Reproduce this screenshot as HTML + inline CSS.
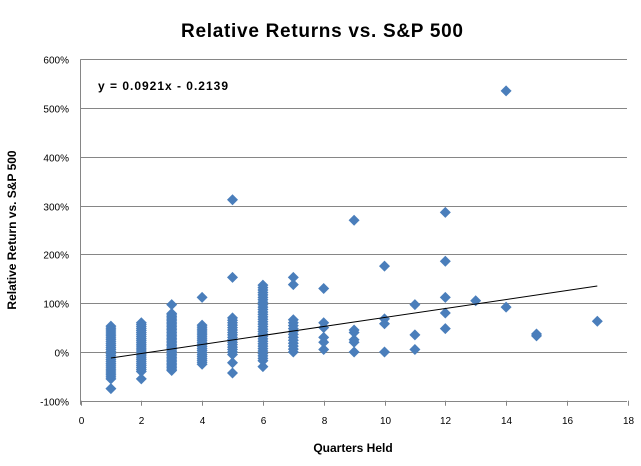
<!DOCTYPE html>
<html><head><meta charset="utf-8"><style>
body{margin:0;background:#fff;}
svg{display:block;font-family:"Liberation Sans",sans-serif;}
</style></head><body>
<svg id="s" width="641" height="466" viewBox="0 0 641 466">
<rect width="641" height="466" fill="#fff"/>
<text x="322" y="37" text-anchor="middle" font-size="19" font-weight="bold" textLength="282">Relative Returns vs. S&amp;P 500</text>
<g id="grid" stroke="#868686" stroke-width="1"></g>
<g id="lbl" font-size="10" fill="#000"></g>
<text x="98" y="90" font-size="12" font-weight="bold" textLength="130">y = 0.0921x - 0.2139</text>
<text x="353" y="452" text-anchor="middle" font-size="12" font-weight="bold">Quarters Held</text>
<text transform="translate(16,230) rotate(-90)" text-anchor="middle" font-size="12" font-weight="bold">Relative Return vs. S&amp;P 500</text>
<g id="pts" fill="#4A7EBB"></g>
<line x1="110.9" y1="358" x2="597.3" y2="286" stroke="#000" stroke-width="1"/>
</svg>
<script>
var NS="http://www.w3.org/2000/svg";
function X(v){return 80.5+v*30.4;}function Y(p){return 352-p*0.488;}
var g=document.getElementById('grid'),l=document.getElementById('lbl');
for(var p=-100;p<=600;p+=100){var y=Math.round(Y(p))+0.5;var e=document.createElementNS(NS,'line');
e.setAttribute('x1',80.5);e.setAttribute('x2',627);e.setAttribute('y1',y);e.setAttribute('y2',y);g.appendChild(e);
var t=document.createElementNS(NS,'text');t.setAttribute('x',69);t.setAttribute('y',y+4);t.setAttribute('text-anchor','end');t.textContent=p+'%';l.appendChild(t);}
var e=document.createElementNS(NS,'line');e.setAttribute('x1',80.5);e.setAttribute('x2',80.5);e.setAttribute('y1',Y(600));e.setAttribute('y2',Y(-100)+4);g.appendChild(e);
for(var x=0;x<=18;x+=2){var xx=Math.round(X(x))+0.5;var e=document.createElementNS(NS,'line');e.setAttribute('x1',xx);e.setAttribute('x2',xx);e.setAttribute('y1',Y(-100));e.setAttribute('y2',Y(-100)+5);g.appendChild(e);
var t=document.createElementNS(NS,'text');t.setAttribute('x',xx);t.setAttribute('y',424);t.setAttribute('text-anchor','middle');t.textContent=x;l.appendChild(t);}
var P=document.getElementById('pts');
function d(x,p){var cx=X(x),cy=Y(p);var e=document.createElementNS(NS,'polygon');
e.setAttribute('points',(cx)+','+(cy-5.5)+' '+(cx+5.5)+','+cy+' '+cx+','+(cy+5.5)+' '+(cx-5.5)+','+cy);P.appendChild(e);}
function range(x,a,b,s){for(var p=a;p<=b;p+=s)d(x,p);}
range(1,-55,55,4);d(1,-75);
range(2,-40,60,4);d(2,-55);
range(3,-38,80,3);d(3,97);
range(4,-25,58,4);d(4,112);
range(5,-5,72,5);d(5,-22);d(5,-43);d(5,153);d(5,312);
range(6,-18,137,5);d(6,-30);
range(7,0,70,6);d(7,138);d(7,153);
[5,20,30,50,60,130].forEach(function(p){d(8,p)});
[0,20,25,40,45,270].forEach(function(p){d(9,p)});
[0,58,68,176].forEach(function(p){d(10,p)});
[5,35,97].forEach(function(p){d(11,p)});
[48,80,112,186,286].forEach(function(p){d(12,p)});
d(13,105);d(14,92);d(14,535);d(15,33);d(15,37);d(17,63);
</script>
</body></html>
